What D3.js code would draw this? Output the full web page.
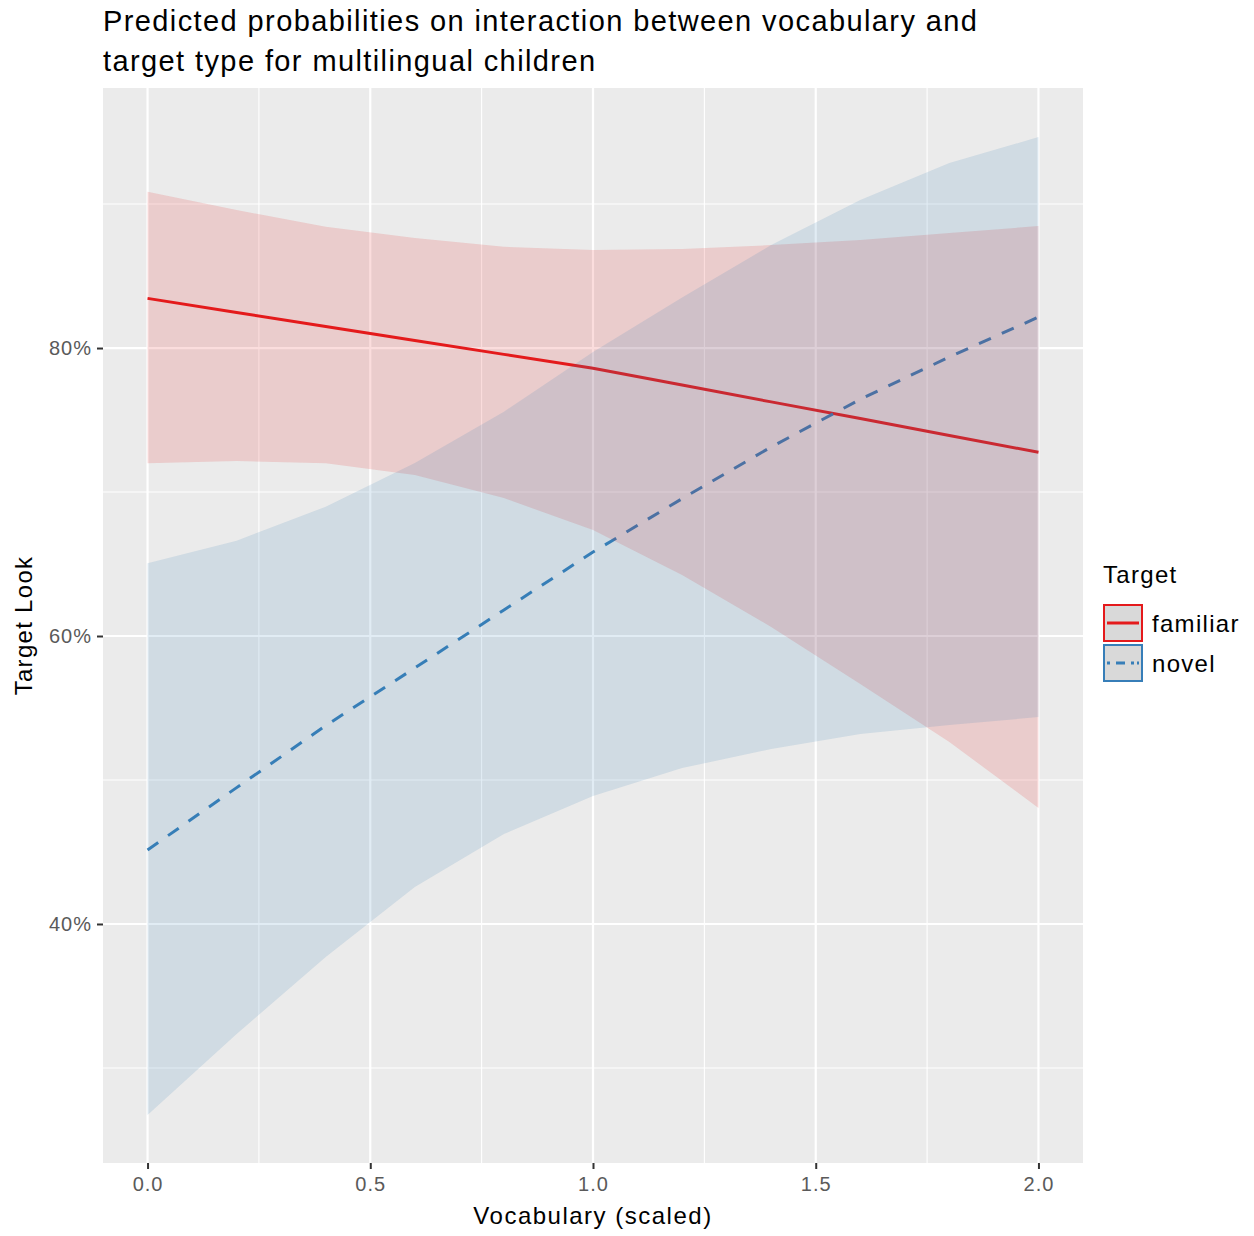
<!DOCTYPE html>
<html lang="en">
<head>
    <meta charset="UTF-8">
    <script src="https://cdnjs.cloudflare.com/ajax/libs/d3/7.8.5/d3.min.js"></script>
    <style>
        body { margin: 0; background: #fff; }
        text { font-family: "Liberation Sans", Arial, sans-serif; }
    </style>
</head>
<body>
<div id="viz">
    <svg width="1254" height="1236"></svg>
</div>
<script>
    // vocabulary (scaled) at which predictions were made
    const vocab = [0, 0.2, 0.4, 0.6, 0.8, 1.0, 1.2, 1.4, 1.6, 1.8, 2.0];

    // predicted target look, %
    const familiarFit = [83.45, 82.47, 81.50, 80.53, 79.56, 78.60, 77.43, 76.26, 75.10, 73.92, 72.76];
    const familiarHigh = [90.85, 89.58, 88.42, 87.64, 87.03, 86.81, 86.88, 87.15, 87.50, 87.99, 88.47];
    const familiarLow = [71.99, 72.15, 71.99, 71.18, 69.58, 67.36, 64.24, 60.63, 56.67, 52.64, 48.06];

    const novelFit = [45.14, 49.47, 53.78, 57.78, 61.81, 65.83, 69.54, 73.13, 76.44, 79.38, 82.15];
    const novelHigh = [65.05, 66.62, 68.98, 72.01, 75.58, 79.72, 83.51, 87.15, 90.28, 92.85, 94.65];
    const novelLow = [26.74, 32.36, 37.71, 42.57, 46.25, 48.89, 50.83, 52.15, 53.19, 53.82, 54.37];

    const groups = ['familiar', 'novel'];
    const xTicks = [0, 0.5, 1.0, 1.5, 2.0];
    const yTicks = [40, 60, 80];

    const series = [
        {key: 'familiar', fit: familiarFit, lo: familiarLow, hi: familiarHigh},
        {key: 'novel', fit: novelFit, lo: novelLow, hi: novelHigh}
    ];

    const colour = d3.scaleOrdinal().domain(groups).range(['#e41a1c', '#377eb8']);
    const dash = d3.scaleOrdinal().domain(groups).range(['none', '13,12']);

    const svg = d3.select('svg');
    const panel = {left: 103, top: 88, right: 1083, bottom: 1163};

    const xScale = d3.scaleLinear().domain([-0.1, 2.1]).range([panel.left, panel.right]);
    const yScale = d3.scaleLinear().domain([23.4, 98.06]).range([panel.bottom, panel.top]);

    // panel background
    svg.append('rect')
        .attr('x', panel.left).attr('y', panel.top)
        .attr('width', panel.right - panel.left).attr('height', panel.bottom - panel.top)
        .attr('fill', '#ebebeb');

    // grid
    const grid = svg.append('g').attr('stroke', '#fff');
    const minorX = [0.25, 0.75, 1.25, 1.75];
    const minorY = [30, 50, 70, 90];
    grid.selectAll('line.mx').data(minorX).enter().append('line')
        .attr('x1', d => xScale(d)).attr('x2', d => xScale(d))
        .attr('y1', panel.top).attr('y2', panel.bottom).attr('stroke-width', 1.1);
    grid.selectAll('line.my').data(minorY).enter().append('line')
        .attr('y1', d => yScale(d)).attr('y2', d => yScale(d))
        .attr('x1', panel.left).attr('x2', panel.right).attr('stroke-width', 1.1);
    grid.selectAll('line.gx').data(xTicks).enter().append('line')
        .attr('x1', d => xScale(d)).attr('x2', d => xScale(d))
        .attr('y1', panel.top).attr('y2', panel.bottom).attr('stroke-width', 2.2);
    grid.selectAll('line.gy').data(yTicks).enter().append('line')
        .attr('y1', d => yScale(d)).attr('y2', d => yScale(d))
        .attr('x1', panel.left).attr('x2', panel.right).attr('stroke-width', 2.2);

    // fitted lines (ribbons go on top of them)
    const line = d3.line().x((d, i) => xScale(vocab[i])).y(d => yScale(d));
    svg.selectAll('path.fit').data(series).enter().append('path')
        .attr('class', 'fit')
        .attr('d', d => line(d.fit))
        .attr('fill', 'none')
        .attr('stroke', d => colour(d.key))
        .attr('stroke-width', 3)
        .attr('stroke-dasharray', d => dash(d.key));

    const area = d3.area()
        .x((d, i) => xScale(vocab[i]))
        .y0(d => yScale(d[0]))
        .y1(d => yScale(d[1]));
    svg.selectAll('path.band').data(series).enter().append('path')
        .attr('class', 'band')
        .attr('d', d => area(d.lo.map((v, i) => [v, d.hi[i]])))
        .attr('fill', d => colour(d.key))
        .attr('fill-opacity', 0.15);

    // axes
    const xAxis = d3.axisBottom(xScale).tickValues(xTicks).tickFormat(d3.format('.1f'))
        .tickSizeOuter(0).tickSizeInner(6).tickPadding(5);
    const gx = svg.append('g').attr('transform', `translate(0,${panel.bottom})`).call(xAxis);
    const yAxis = d3.axisLeft(yScale).tickValues(yTicks).tickFormat(d => d + '%')
        .tickSizeOuter(0).tickSizeInner(6).tickPadding(5);
    const gy = svg.append('g').attr('transform', `translate(${panel.left},0)`).call(yAxis);
    [gx, gy].forEach(g => {
        g.select('.domain').remove();
        g.selectAll('.tick line').attr('stroke', '#333').attr('stroke-width', 2);
        g.selectAll('.tick text').attr('fill', '#5a5a5a')
            .style('font-size', '20px').style('letter-spacing', '1px');
    });
    gx.selectAll('.tick text').attr('dy', '0.85em');

    svg.append('text')
        .attr('x', xScale(1)).attr('y', 1224)
        .attr('text-anchor', 'middle')
        .style('font-size', '24px').style('letter-spacing', '1.5px').attr('fill', '#000')
        .text('Vocabulary (scaled)');
    svg.append('text')
        .attr('transform', `translate(32,${(panel.top + panel.bottom) / 2}) rotate(-90)`)
        .attr('text-anchor', 'middle')
        .style('font-size', '24px').style('letter-spacing', '1.3px').attr('fill', '#000')
        .text('Target Look');

    // title
    const title = svg.append('text').style('font-size', '29px').style('letter-spacing', '1.4px').attr('fill', '#000');
    title.append('tspan').attr('x', 103).attr('y', 31).text('Predicted probabilities on interaction between vocabulary and');
    title.append('tspan').attr('x', 103).attr('y', 71).text('target type for multilingual children');

    // legend
    const legend = svg.append('g').attr('transform', 'translate(1103,0)');
    legend.append('text').attr('x', 0).attr('y', 583)
        .style('font-size', '24px').style('letter-spacing', '1.3px').text('Target');
    const keys = legend.selectAll('g.key').data(series).enter().append('g')
        .attr('class', 'key')
        .attr('transform', (d, i) => `translate(0,${604 + i * 40})`);
    keys.append('rect')
        .attr('x', 1).attr('y', 1).attr('width', 38).attr('height', 36)
        .attr('fill', '#d9d9d9')
        .attr('stroke', d => colour(d.key)).attr('stroke-width', 2);
    keys.append('line')
        .attr('x1', 4).attr('x2', 36).attr('y1', 19).attr('y2', 19)
        .attr('stroke', d => colour(d.key)).attr('stroke-width', 3)
        .attr('stroke-dasharray', d => d.key === 'novel' ? '3,6,9,6,3' : null);
    keys.append('text')
        .attr('x', 49).attr('y', 28)
        .style('font-size', '24px').style('letter-spacing', '1.3px')
        .text(d => d.key);
</script>
</body>
</html>
